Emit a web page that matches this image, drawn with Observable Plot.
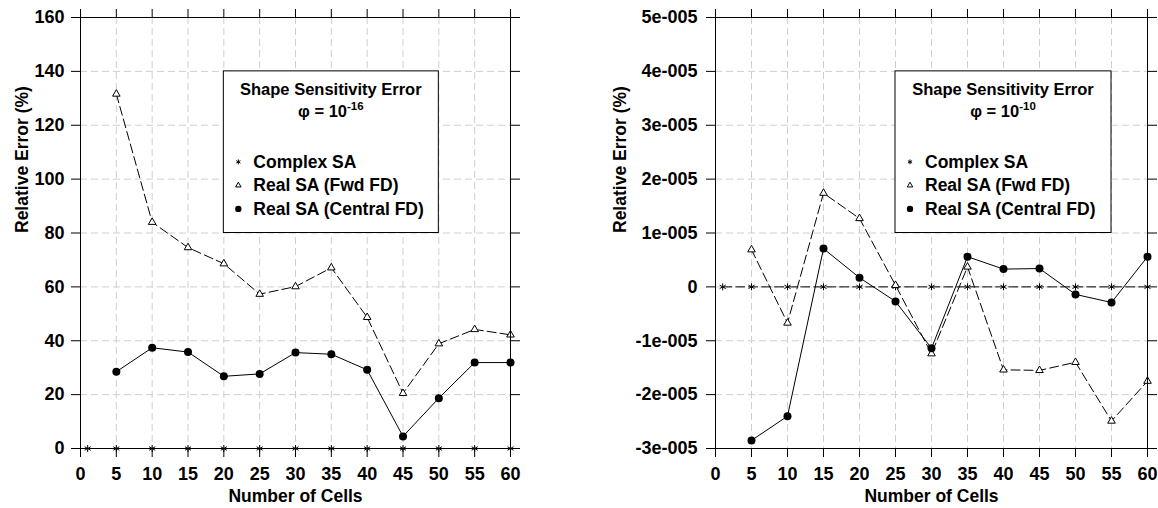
<!DOCTYPE html>
<html>
<head>
<meta charset="utf-8">
<script src="https://cdn.jsdelivr.net/npm/d3@7"></script>
<script src="https://cdn.jsdelivr.net/npm/@observablehq/plot@0.6"></script>
<style>
  html, body { margin: 0; padding: 0; background: #fff; overflow: hidden; }
  #wrap { position: relative; width: 1158px; height: 508px; }
  .panel { position: absolute; top: 0; }
</style>
</head>
<body>
<div id="wrap">
  <div class="panel" id="left" style="left:0px"></div>
  <div class="panel" id="right" style="left:579px"></div>
</div>
<script>
// Mesh sizes (number of cells) for the finite-difference runs
const cells = [5, 10, 15, 20, 25, 30, 35, 40, 45, 50, 55, 60];
// The complex-step runs also include the single-cell mesh
const complexCells = [1, 5, 10, 15, 20, 25, 30, 35, 40, 45, 50, 55, 60];

// Relative error (%) for perturbation 1e-16
const complexErr16 = [0, 0, 0, 0, 0, 0, 0, 0, 0, 0, 0, 0, 0];
const fwdErr16 = [131.6, 84.0, 74.6, 68.6, 57.3, 60.1, 67.1, 48.7, 20.5, 38.9, 44.2, 42.2];
const centralErr16 = [28.5, 37.4, 35.8, 26.8, 27.7, 35.6, 35.0, 29.2, 4.5, 18.7, 31.9, 31.9];

// Relative error (%) for perturbation 1e-10
const complexErr10 = [0, 0, 0, 0, 0, 0, 0, 0, 0, 0, 0, 0, 0];
const fwdErr10 = [0.69e-5, -0.67e-5, 1.74e-5, 1.27e-5, 0.03e-5, -1.24e-5, 0.37e-5, -1.54e-5, -1.55e-5, -1.40e-5, -2.49e-5, -1.75e-5];
const centralErr10 = [-2.85e-5, -2.40e-5, 0.71e-5, 0.17e-5, -0.27e-5, -1.14e-5, 0.56e-5, 0.33e-5, 0.34e-5, -0.14e-5, -0.29e-5, 0.56e-5];

// Axis ticks and labels
const xTicks = [0, 5, 10, 15, 20, 25, 30, 35, 40, 45, 50, 55, 60];
const yTicks16 = [0, 20, 40, 60, 80, 100, 120, 140, 160];
const yLabels16 = ["0", "20", "40", "60", "80", "100", "120", "140", "160"];
const yTicks10 = [-3e-5, -2e-5, -1e-5, 0, 1e-5, 2e-5, 3e-5, 4e-5, 5e-5];
const yLabels10 = ["-3e-005", "-2e-005", "-1e-005", "0", "1e-005", "2e-005", "3e-005", "4e-005", "5e-005"];

const seriesNames = ["Complex SA", "Real SA (Fwd FD)", "Real SA (Central FD)"];
const legendTitle = "Shape Sensitivity Error";
const xTitle = "Number of Cells";
const yTitle = "Relative Error (%)";

const FONT = "'Liberation Sans', Arial, Helvetica, sans-serif";
const GRID = {stroke: "#cfcfcf", strokeOpacity: 1, strokeDasharray: "7,4"};
const TICK_FONT = {fontSize: 18, fontWeight: "bold", fontFamily: FONT};

function panel(cfg) {
  const toRows = (xs, ys) => xs.map((x, i) => ({x, y: ys[i]}));
  const complexRows = toRows(complexCells, cfg.complex);
  const fwdRows = toRows(cells, cfg.fwd);
  const centralRows = toRows(cells, cfg.central);
  const fmt = d => cfg.yLabels[cfg.yTicks.indexOf(d)];
  const inner = cfg.yTicks.slice(1, -1);

  const plot = Plot.plot({
    width: 579,
    height: 508,
    marginTop: 17,
    marginBottom: 60,
    marginLeft: cfg.marginLeft,
    marginRight: cfg.marginRight,
    x: {domain: [0, 60]},
    y: {domain: [cfg.yTicks[0], cfg.yTicks[cfg.yTicks.length - 1]]},
    style: {fontFamily: FONT, fontSize: "18px", fontWeight: "bold", background: "white", color: "black", overflow: "visible"},
    marks: [
      Plot.gridX(xTicks.slice(1, -1), GRID),
      Plot.gridY(inner, GRID),
      Plot.line(complexRows, {x: "x", y: "y", stroke: "black", strokeWidth: 1, strokeDasharray: "9,4"}),
      Plot.line(fwdRows, {x: "x", y: "y", stroke: "black", strokeWidth: 1, strokeDasharray: "9,4"}),
      Plot.line(centralRows, {x: "x", y: "y", stroke: "black", strokeWidth: 1}),
      Plot.dot(complexRows, {x: "x", y: "y", symbol: "asterisk", r: 3.3, stroke: "black", strokeWidth: 1}),
      Plot.dot(fwdRows, {x: "x", y: "y", symbol: "triangle", r: 2.8, stroke: "black", fill: "white", strokeWidth: 1}),
      Plot.dot(centralRows, {x: "x", y: "y", symbol: "circle", r: 4, fill: "black", stroke: "none"}),
      Plot.frame({stroke: "black", strokeWidth: 1}),
      Plot.axisX(xTicks, {anchor: "bottom", tickSize: 9, tickPadding: 10, tickFormat: d => String(d), label: null, ...TICK_FONT}),
      Plot.axisX(xTicks, {anchor: "top", tickSize: 9, tickFormat: () => "", label: null}),
      Plot.axisY(cfg.yTicks, {anchor: "left", tickSize: 9, tickPadding: cfg.tickPadding, tickFormat: fmt, label: null, ...TICK_FONT}),
      Plot.axisY(cfg.yTicks, {anchor: "right", tickSize: 9, tickFormat: () => "", label: null}),
      Plot.text([xTitle], {text: d => d, frameAnchor: "bottom", dy: 48, fontSize: 17.5, fontWeight: "bold", fontFamily: FONT, lineAnchor: "middle"}),
      Plot.text([yTitle], {text: d => d, frameAnchor: "left", dx: cfg.titleDx, rotate: -90, fontSize: 17.5, fontWeight: "bold", fontFamily: FONT, lineAnchor: "middle"})
    ]
  });

  // Legend box, anchored to the plot's grid cells
  const sx = plot.scale("x"), sy = plot.scale("y");
  const bx = sx.apply(cfg.legendBox.x1), bx2 = sx.apply(cfg.legendBox.x2);
  const by = sy.apply(cfg.legendBox.y1), by2 = sy.apply(cfg.legendBox.y2);
  const g = d3.select(plot).append("g")
    .attr("font-family", FONT).attr("font-weight", "bold").attr("font-size", 16.5)
    .attr("fill", "black").attr("text-anchor", "start");
  g.append("rect").attr("x", bx).attr("y", by).attr("width", bx2 - bx).attr("height", by2 - by)
    .attr("fill", "white").attr("stroke", "black").attr("stroke-width", 1);
  const cx = (bx + bx2) / 2;
  g.append("text").attr("x", cx).attr("y", by + 24).attr("text-anchor", "middle").text(legendTitle);
  const phi = g.append("text").attr("x", cx).attr("y", by + 46).attr("text-anchor", "middle");
  phi.append("tspan").text("\u03c6 = 10");
  phi.append("tspan").attr("dy", -7).attr("font-size", 11.5).text(cfg.exponent);

  const symbols = [
    {type: d3.symbolAsterisk, size: 16, fill: "none", stroke: "black"},
    {type: d3.symbolTriangle, size: 13, fill: "white", stroke: "black"},
    {type: d3.symbolCircle, size: 32, fill: "black", stroke: "none"}
  ];
  seriesNames.forEach((name, i) => {
    const yy = by + 97 + i * 23.5;
    g.append("path")
      .attr("transform", `translate(${bx + 15},${yy - 6})`)
      .attr("d", d3.symbol(symbols[i].type, symbols[i].size)())
      .attr("fill", symbols[i].fill).attr("stroke", symbols[i].stroke).attr("stroke-width", 1);
    g.append("text").attr("x", bx + 30).attr("y", yy).attr("text-anchor", "start")
      .attr("font-size", 17.5).text(name);
  });
  return plot;
}

document.getElementById("left").append(panel({
  complex: complexErr16, fwd: fwdErr16, central: centralErr16,
  yTicks: yTicks16, yLabels: yLabels16,
  marginLeft: 80, marginRight: 69, tickPadding: 7, titleDx: -58,
  exponent: "-16",
  legendBox: {x1: 20, x2: 50, y1: 140, y2: 80}
}));

document.getElementById("right").append(panel({
  complex: complexErr10, fwd: fwdErr10, central: centralErr10,
  yTicks: yTicks10, yLabels: yLabels10,
  marginLeft: 136, marginRight: 11, tickPadding: 9, titleDx: -95,
  exponent: "-10",
  legendBox: {x1: 25, x2: 55, y1: 4e-5, y2: 1e-5}
}));
</script>
</body>
</html>
